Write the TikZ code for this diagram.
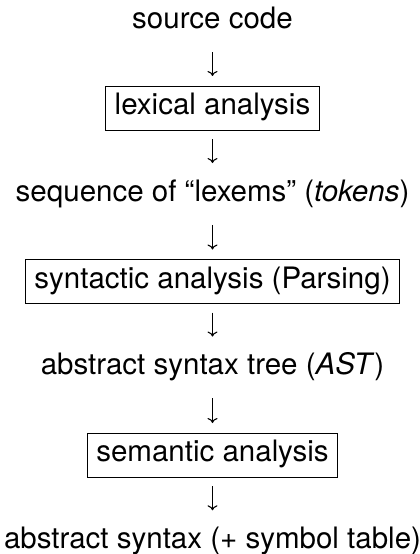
\documentclass[tikz,border=0pt]{standalone}
\usepackage{fontspec}
\setmainfont{TeX Gyre Heros}
\usetikzlibrary{arrows.meta}
\begin{document}
\begin{tikzpicture}[x=1pt,y=-1pt,
  every node/.style={font=\fontsize{29.5}{35}\selectfont},
  label/.style={inner sep=0pt,text height=20pt,text depth=7pt,anchor=base},
  stage/.style={draw,line width=1pt,inner xsep=9pt,inner ysep=9.5pt,text height=19pt,text depth=6pt},
  flowA/.style={-{To[length=5pt,width=10pt]},line width=1.1pt,shorten <=16.5pt,shorten >=9.5pt},
  flowB/.style={-{To[length=5pt,width=10pt]},line width=1.1pt,shorten <=8.5pt,shorten >=18pt}]
\useasboundingbox (0,0) rectangle (420,554);
\node[label] (src) at (212.5,28.5) {source code};
\node[stage] (lex) at (212.5,108) {lexical analysis};
\node[label] (seq) at (212.5,201.25) {sequence of “lexems” (\textit{tokens})};
\node[stage] (parse) at (212.5,281.5) {syntactic analysis (Parsing)};
\node[label] (ast) at (212.5,374.75) {abstract syntax tree (\textit{AST})};
\node[stage] (sem) at (212.5,455) {semantic analysis};
\node[label] (out) at (212.5,548.5) {abstract syntax (+ symbol table)};
\draw[flowA] (src) -- (lex);
\draw[flowB] (lex) -- (seq);
\draw[flowA] (seq) -- (parse);
\draw[flowB] (parse) -- (ast);
\draw[flowA] (ast) -- (sem);
\draw[flowB] (sem) -- (out);
\end{tikzpicture}
\end{document}
